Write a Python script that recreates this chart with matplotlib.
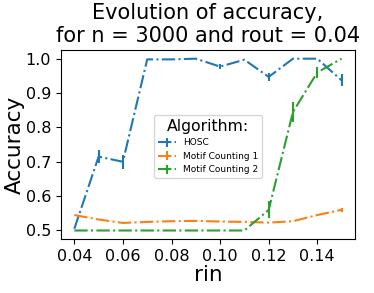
import matplotlib
matplotlib.use("Agg")
import matplotlib.pyplot as plt

rin = [0.04, 0.05, 0.06, 0.07, 0.08, 0.09, 0.10, 0.11, 0.12, 0.13, 0.14, 0.15]

hosc = [0.505, 0.715, 0.70, 0.998, 0.998, 1.0, 0.977, 0.997, 0.947, 1.0, 1.0, 0.937]
hosc_err = [0.0, 0.02, 0.02, 0.0, 0.0, 0.0, 0.007, 0.0, 0.012, 0.0, 0.0, 0.017]

motif1 = [0.545, 0.532, 0.522, 0.525, 0.527, 0.528, 0.526, 0.525, 0.523, 0.527, 0.545, 0.56]
motif1_err = [0.0, 0.0, 0.0, 0.0, 0.0, 0.0, 0.0, 0.0, 0.0, 0.0, 0.004, 0.005]

motif2 = [0.5, 0.5, 0.5, 0.5, 0.5, 0.5, 0.5, 0.5, 0.56, 0.845, 0.96, 1.0]
motif2_err = [0.0, 0.0, 0.0, 0.0, 0.0, 0.0, 0.0, 0.0, 0.025, 0.03, 0.015, 0.0]

fig = plt.figure(figsize=(3.74, 2.93), dpi=100)
ax = fig.add_axes([0.163, 0.184, 0.786, 0.645])

ax.errorbar(rin, hosc, yerr=hosc_err, linestyle='-.', label='HOSC')
ax.errorbar(rin, motif1, yerr=motif1_err, linestyle='-.', label='Motif Counting 1')
ax.errorbar(rin, motif2, yerr=motif2_err, linestyle='-.', label='Motif Counting 2')

ax.set_xticks([0.04, 0.06, 0.08, 0.10, 0.12, 0.14])
ax.set_yticks([0.5, 0.6, 0.7, 0.8, 0.9, 1.0])
ax.tick_params(labelsize=11.5)
ax.set_xlabel('rin', fontsize=15.5, labelpad=1)
ax.set_ylabel('Accuracy', fontsize=15.5, labelpad=1)
ax.set_title('Evolution of accuracy,\nfor n = 3000 and rout = 0.04', fontsize=15)

leg = ax.legend(title='Algorithm:', fontsize=6.5, title_fontsize=11.3,
                loc='center', bbox_to_anchor=(0.5, 0.49))

fig.savefig('out.png', dpi=100)
